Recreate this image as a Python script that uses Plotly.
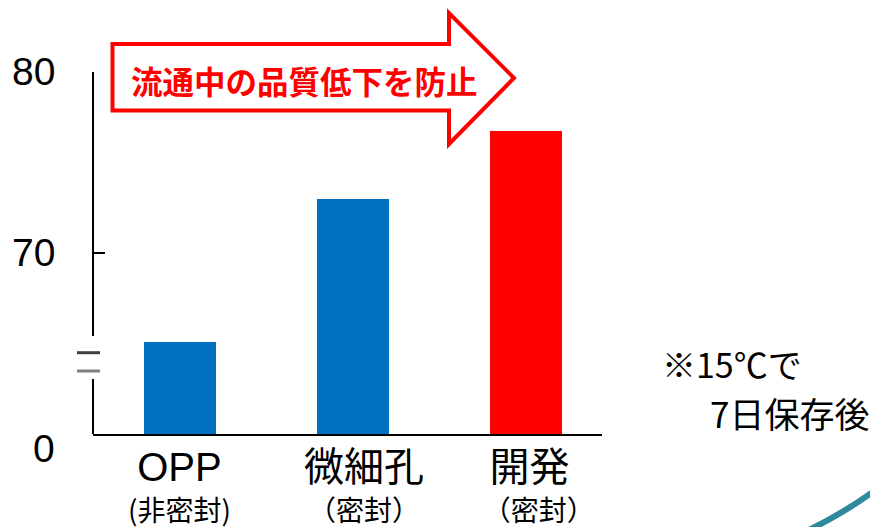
import plotly.graph_objects as go

# ---- data ----
categories = ["OPP", "微細孔", "開発"]
sub_labels = ["(非密封)", "（密封）", "（密封）"]
values = [65.1, 73.0, 76.75]          # displayed on broken axis (lower tick "0" sits at 60)
bar_colors = ["#0070C0", "#0070C0", "#FF0000"]
tick_vals = [60, 70, 80]
tick_text = ["0", "70", "80"]
banner_text = "流通中の品質低下を防止"
note_lines = ["※15℃で", "7日保存後"]

OFF = 8  # page body margin offset
W, H = 878, 527
L, T = 93 - OFF, 72 - OFF
PR, PB = 602 - OFF, 434 - OFF          # plot right / bottom in figure pixels
R, B = W - PR, H - PB
PW, PH = PR - L, PB - T


def px(x):
    return (x - OFF - L) / PW


def py(y):
    return (PB - (y - OFF)) / PH


LATIN = "Liberation Sans, Arial, Noto Sans CJK JP, sans-serif"
CJK = "Noto Sans CJK JP, sans-serif"

fig = go.Figure()
fig.add_trace(go.Bar(
    x=categories, y=values, marker=dict(color=bar_colors, line=dict(width=0)),
    width=0.414, hoverinfo="skip", showlegend=False,
))

shapes = []
# y-axis line with break
shapes.append(dict(type="line", xref="paper", yref="y", x0=0, x1=0, y0=80, y1=65.41,
                   line=dict(color="black", width=2)))
shapes.append(dict(type="line", xref="paper", yref="y", x0=0, x1=0, y0=63.04, y1=60,
                   line=dict(color="black", width=2)))
# break marks
shapes.append(dict(type="line", xref="paper", yref="paper", x0=px(77), x1=px(100),
                   y0=py(352.7), y1=py(352.7), line=dict(color="#404040", width=3)))
shapes.append(dict(type="line", xref="paper", yref="paper", x0=px(77), x1=px(100),
                   y0=py(371), y1=py(371), line=dict(color="#808080", width=3)))

# banner arrow
pts = [(112.5, 44), (449, 44), (449, 13), (514, 78), (449, 144), (449, 110.5), (112.5, 110.5)]
path = "M " + " L ".join(f"{px(x):.5f},{py(y):.5f}" for x, y in pts) + " Z"
shapes.append(dict(type="path", xref="paper", yref="paper", path=path,
                   fillcolor="white", line=dict(color="#FF0000", width=4)))

# decorative arc bottom-right
arc = (f"M {px(805):.5f},{py(532):.5f} Q {px(850):.5f},{py(510):.5f} "
       f"{px(882):.5f},{py(485):.5f}")
shapes.append(dict(type="path", xref="paper", yref="paper", path=arc,
                   line=dict(color="#2F8AA0", width=6)))

annotations = []
# y tick labels
for v, t in zip(tick_vals, tick_text):
    annotations.append(dict(x=px(57), xref="paper", y=v, yref="y", text=t,
                            showarrow=False, xanchor="right", yanchor="middle",
                            yshift=-14 if t == "0" else 1,
                            font=dict(family=LATIN, size=39, color="black")))
# category labels (two lines in one text)
shift1 = [0, 11, 3]
pad2 = [0, 0, 3]
for i, (c, s) in enumerate(zip(categories, sub_labels)):
    txt = (f"<span style='font-size:40px'>{c}</span><br>"
           f"<span style='font-size:28px;font-family:Noto Sans CJK JP'>"
           f"{'&nbsp;' * pad2[i]}{s}</span>")
    annotations.append(dict(x=c, xref="x", y=py(487), yref="paper", text=txt,
                            showarrow=False, xanchor="center", yanchor="middle",
                            xshift=shift1[i], borderpad=0, align="center",
                            font=dict(family=LATIN, size=31, color="black")))
# banner text
annotations.append(dict(x=px(304.5), xref="paper", y=py(80), yref="paper",
                        text=f"<b>{banner_text}</b>", showarrow=False,
                        xanchor="center", yanchor="middle",
                        font=dict(family=CJK, size=31.5, color="#FF0000")))
# note
annotations.append(dict(x=px(660), xref="paper", y=py(363), yref="paper",
                        text=note_lines[0], showarrow=False, xanchor="left", yanchor="middle",
                        font=dict(family=CJK, size=34, color="black")))
annotations.append(dict(x=px(708), xref="paper", y=py(412), yref="paper",
                        text=note_lines[1], showarrow=False, xanchor="left", yanchor="middle",
                        font=dict(family=CJK, size=35, color="black")))

fig.update_layout(
    width=W, height=H,
    margin=dict(l=L, r=R, t=T, b=B, pad=0),
    paper_bgcolor="white", plot_bgcolor="white",
    shapes=shapes, annotations=annotations,
    xaxis=dict(range=[-0.5, 2.437], showline=True, linecolor="black", linewidth=2,
               showticklabels=False, ticks="", showgrid=False, zeroline=False,
               fixedrange=True),
    yaxis=dict(range=[60, 80], showline=False, tickvals=tick_vals, ticks="inside",
               ticklen=12, tickwidth=2, tickcolor="black", showticklabels=False,
               showgrid=False, zeroline=False, fixedrange=True),
    bargap=0,
)

fig.write_html("out.html")
